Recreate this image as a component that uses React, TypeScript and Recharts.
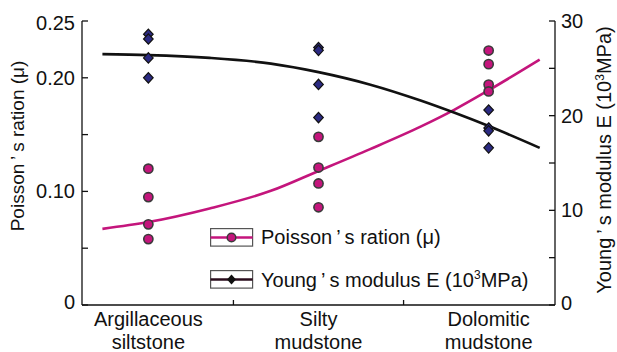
import React from 'react';
import { ComposedChart, Legend, Line, Scatter, XAxis, YAxis } from 'recharts';

const FONT = '"Liberation Sans", Arial, sans-serif';
const PINK = '#c4157c';
const NAVY = '#2b2a82';
const DARK = '#111111';

// categories (x position = 1, 2, 3)
const categories = [
    ['Argillaceous', 'siltstone'],
    ['Silty', 'mudstone'],
    ['Dolomitic', 'mudstone'],
];
const xTicks = [1, 1.5, 2, 2.5, 3];

// left axis: Poisson's ration
const muTicks = [0, 0.05, 0.1, 0.15, 0.2, 0.25];
const muTickLabels = ['0', '', '0.10', '', '0.20', '0.25'];
// right axis: Young's modulus
const eTicks = [0, 5, 10, 15, 20, 25, 30];
const eTickLabels = ['0', '', '10', '', '20', '', '30'];

// measured points
const muPoints = [
    { x: 1, mu: 0.12 },
    { x: 1, mu: 0.095 },
    { x: 1, mu: 0.071 },
    { x: 1, mu: 0.058 },
    { x: 2, mu: 0.148 },
    { x: 2, mu: 0.121 },
    { x: 2, mu: 0.107 },
    { x: 2, mu: 0.086 },
    { x: 3, mu: 0.224 },
    { x: 3, mu: 0.212 },
    { x: 3, mu: 0.194 },
    { x: 3, mu: 0.188 },
];
const ePoints = [
    { x: 1, E: 28.6 },
    { x: 1, E: 28.1 },
    { x: 1, E: 26.1 },
    { x: 1, E: 24.0 },
    { x: 2, E: 27.2 },
    { x: 2, E: 26.9 },
    { x: 2, E: 23.3 },
    { x: 2, E: 19.8 },
    { x: 3, E: 20.6 },
    { x: 3, E: 18.7 },
    { x: 3, E: 18.4 },
    { x: 3, E: 16.6 },
];

// fitted curves
const muFit = [
    { x: 0.73, mu: 0.067 },
    { x: 1.0, mu: 0.073 },
    { x: 1.36, mu: 0.085 },
    { x: 1.72, mu: 0.1005 },
    { x: 2.0, mu: 0.118 },
    { x: 2.3, mu: 0.137 },
    { x: 2.6, mu: 0.157 },
    { x: 2.8, mu: 0.172 },
    { x: 3.0, mu: 0.189 },
    { x: 3.3, mu: 0.216 },
];
const eFit = [
    { x: 0.73, E: 26.5 },
    { x: 1.0, E: 26.4 },
    { x: 1.36, E: 26.1 },
    { x: 1.72, E: 25.5 },
    { x: 2.0, E: 24.6 },
    { x: 2.3, E: 23.3 },
    { x: 2.6, E: 21.6 },
    { x: 2.8, E: 20.3 },
    { x: 3.0, E: 18.9 },
    { x: 3.3, E: 16.6 },
];

const LeftTick = ({ x, y, index }) => (
    <g>
        <line x1={x} x2={x + 6} y1={y} y2={y} stroke={DARK} strokeWidth={1.3} />
        {muTickLabels[index] && (
            <text x={x - 7} y={y + (index === 0 ? 4 : index === 5 ? 9 : 7)} textAnchor='end' fontSize={20} fontFamily={FONT} fill={DARK}>
                {muTickLabels[index]}
            </text>
        )}
    </g>
);

const RightTick = ({ x, y, index }) => (
    <g>
        <line x1={x} x2={x - 6} y1={y} y2={y} stroke={DARK} strokeWidth={1.3} />
        {eTickLabels[index] && (
            <text x={x + 6} y={y + (index === 0 ? 5 : 7)} textAnchor='start' fontSize={20} fontFamily={FONT} fill={DARK}>
                {eTickLabels[index]}
            </text>
        )}
    </g>
);

const BottomTick = ({ x, y, payload }) => {
    const v = payload.value;
    if (!Number.isInteger(v)) {
        return <line x1={x} x2={x} y1={y} y2={y - 5} stroke={DARK} strokeWidth={1.3} />;
    }
    const lines = categories[v - 1];
    return (
        <text x={x} y={y} textAnchor='middle' fontSize={20} fontFamily={FONT} fill={DARK}>
            <tspan x={x} dy={21}>{lines[0]}</tspan>
            <tspan x={x} dy={23}>{lines[1]}</tspan>
        </text>
    );
};

const leftLabel = () => (
    <text transform='translate(24,146) rotate(-90)' textAnchor='middle' fontSize={19} fontFamily={FONT} fill={DARK}>
        Poisson{'\u2009’\u2009'}s ration (μ)
    </text>
);

const rightLabel = () => (
    <text transform='translate(611,160) rotate(-90)' textAnchor='middle' fontSize={20} fontFamily={FONT} fill={DARK}>
        Young{'\u2009’\u2009'}s modulus E (10
        <tspan dy={-7} fontSize={12}>3</tspan>
        <tspan dy={7}>MPa)</tspan>
    </text>
);

const circleShape = ({ cx, cy }) => <circle cx={cx} cy={cy} r={4.6} fill={PINK} stroke='#3a3a3a' strokeWidth={1.6} />;

const diamondShape = ({ cx, cy }) => (
    <path d={`M${cx},${cy - 5.2}L${cx + 4.8},${cy}L${cx},${cy + 5.2}L${cx - 4.8},${cy}Z`} fill={NAVY} stroke={DARK} strokeWidth={1.2} />
);

const legendItems = [
    { label: <>Poisson{'\u2009’\u2009'}s ration (μ)</>, color: PINK, marker: 'circle' },
    {
        label: (
            <>
                Young{'\u2009’\u2009'}s modulus E (10<sup style={{ fontSize: 12 }}>3</sup>MPa)
            </>
        ),
        color: '#2a0c1c',
        marker: 'diamond',
    },
];

const renderLegend = () => (
    <div style={{ fontFamily: FONT, fontSize: 20, color: DARK }}>
        {legendItems.map((item, index) => (
            <div key={`legend-${index}`} style={{ display: 'flex', alignItems: 'center', height: 42 }}>
                <svg width={44} height={19} style={{ marginRight: 7 }}>
                    <rect x={0.6} y={0.6} width={42} height={17.5} fill='#fff' stroke='#555' strokeWidth={1.2} />
                    <line x1={0.6} x2={42.6} y1={9.5} y2={9.5} stroke={item.color} strokeWidth={2.6} />
                    {item.marker === 'circle' ? (
                        <circle cx={21.5} cy={9.5} r={4.3} fill={PINK} stroke='#3a3a3a' strokeWidth={1.5} />
                    ) : (
                        <path d='M21.5,4.5L26,9.5L21.5,14.5L17,9.5Z' fill={DARK} />
                    )}
                </svg>
                <span style={{ lineHeight: 1 }}>{item.label}</span>
            </div>
        ))}
    </div>
);

export default function App() {
    return (
        <div style={{ position: 'absolute', left: 0, top: 0 }}>
            <ComposedChart width={617} height={352} margin={{ top: 21, right: 0, bottom: 0, left: 0 }}>
                <XAxis
                    dataKey='x'
                    type='number'
                    domain={[0.61, 3.39]}
                    ticks={xTicks}
                    interval={0}
                    height={47}
                    tickSize={0}
                    tickMargin={0}
                    tickLine={false}
                    tick={BottomTick}
                    axisLine={{ stroke: DARK, strokeWidth: 1.3 }}
                    allowDataOverflow
                />
                <YAxis
                    yAxisId='mu'
                    orientation='left'
                    domain={[0, 0.25]}
                    ticks={muTicks}
                    interval={0}
                    width={82}
                    tickSize={0}
                    tickMargin={0}
                    tickLine={false}
                    tick={LeftTick}
                    axisLine={{ stroke: DARK, strokeWidth: 1.3 }}
                    label={leftLabel}
                />
                <YAxis
                    yAxisId='E'
                    orientation='right'
                    domain={[0, 30]}
                    ticks={eTicks}
                    interval={0}
                    width={62}
                    tickSize={0}
                    tickMargin={0}
                    tickLine={false}
                    tick={RightTick}
                    axisLine={{ stroke: DARK, strokeWidth: 1.3 }}
                    label={rightLabel}
                />
                <Line data={muFit} dataKey='mu' yAxisId='mu' type='monotone' stroke={PINK} strokeWidth={2.6} dot={false} isAnimationActive={false} />
                <Line data={eFit} dataKey='E' yAxisId='E' type='monotone' stroke={DARK} strokeWidth={2.6} dot={false} isAnimationActive={false} />
                <Scatter data={muPoints} dataKey='mu' yAxisId='mu' shape={circleShape} isAnimationActive={false} />
                <Scatter data={ePoints} dataKey='E' yAxisId='E' shape={diamondShape} isAnimationActive={false} />
                <Legend
                    layout='vertical'
                    align='center'
                    verticalAlign='middle'
                    content={renderLegend}
                    wrapperStyle={{ left: 210, top: 216, width: 360 }}
                />
            </ComposedChart>
        </div>
    );
}
